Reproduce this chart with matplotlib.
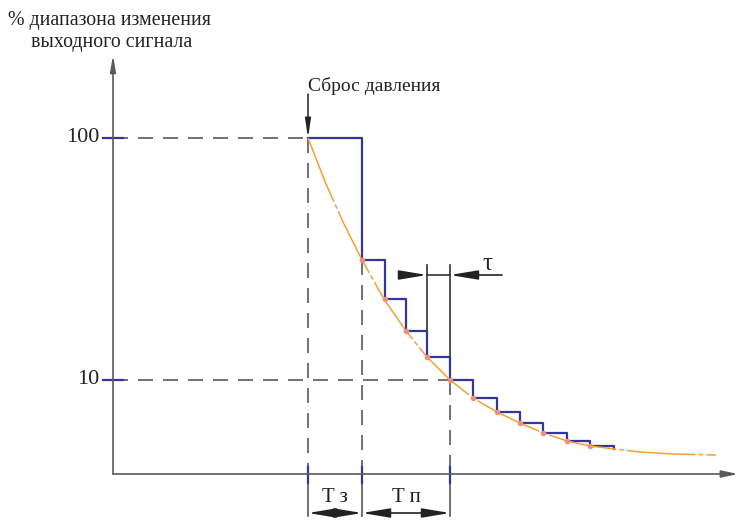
import matplotlib
matplotlib.use("Agg")
import matplotlib.pyplot as plt

# ---- data (diagram units: time since pressure release, signal level above baseline) ----
step_times = [0, 54, 77, 98, 119, 142, 165, 189, 212, 235, 259, 282, 306]
step_levels = [336, 214, 175, 143, 117, 94, 76, 62, 51, 41, 33, 28, 25]
curve_t = [0, 18, 36, 54, 76, 98, 119, 142, 165, 189, 212, 235, 259, 282, 307, 332, 365, 408]
curve_y = [336, 290, 250, 214, 175, 143, 117, 94, 76, 62, 51, 41, 33, 28, 25, 22, 20, 19]
level_values = [336, 94]
level_labels = ["100", "10"]
t_dead = 0          # start of dead time (pressure release)
t_dead_end = 54     # end of dead time T з
t_trans_end = 142   # end of transition time T п
tau_start, tau_end = 119, 142

AXIS_X = -195       # position of the vertical axis
X_END = 430
Y_TOP = 419

font = "Liberation Serif"
grey = "#5a5a5a"
blue = "#34359a"
orange = "#f5a033"
dot = "#f0907a"
ink = "#222222"

fig = plt.figure(figsize=(7.4, 5.2), dpi=100)
ax = fig.add_axes([0, 0, 1, 1])
ax.set_xlim(-308, 432)
ax.set_ylim(-46, 474)
ax.axis("off")

# axes with arrows
ax.annotate("", xy=(AXIS_X, Y_TOP), xytext=(AXIS_X, 0),
            arrowprops=dict(arrowstyle="-|>,head_length=0.7,head_width=0.12", color=grey,
                            lw=1.2, shrinkA=0, shrinkB=0, mutation_scale=14))
ax.annotate("", xy=(X_END, 0), xytext=(AXIS_X, 0),
            arrowprops=dict(arrowstyle="-|>,head_length=0.7,head_width=0.15", color=grey,
                            lw=1.2, shrinkA=0, shrinkB=0, mutation_scale=14))

# level dashed lines + ticks + labels
level_ends = [t_dead, t_trans_end]
for v, lab, xe in zip(level_values, level_labels, level_ends):
    ax.plot([AXIS_X, xe], [v, v], color=grey, lw=1.2, dashes=(9, 6))
    ax.plot([AXIS_X - 10, AXIS_X + 10], [v, v], color=blue, lw=1.6)
    ax.text(AXIS_X - 14, v, lab, fontsize=16, family=font, ha="right", va="center",
            color=ink)

# vertical dashed lines down to the axis, then extension lines
for t, top in [(t_dead, level_values[0]), (t_dead_end, step_levels[1]),
               (t_trans_end, level_values[1])]:
    ax.plot([t, t], [top, 0], color=grey, lw=1.2, dashes=(9, 6))
    ax.plot([t, t], [0, -42], color=grey, lw=1.2)
    ax.plot([t, t], [-9, 7], color=blue, lw=1.6)

# staircase output
ax.step(step_times, step_levels, where="post", color=blue, lw=1.6, zorder=3)

# exponential curve
ax.plot(curve_t, curve_y, color=orange, lw=1.1, dashes=(45, 2, 3, 2), zorder=4)
ax.scatter(step_times[1:12], step_levels[1:12], s=16, color=dot, zorder=5, linewidths=0)

# pressure-release arrow
ax.annotate("", xy=(t_dead, level_values[0]), xytext=(t_dead, 380),
            arrowprops=dict(arrowstyle="-|>,head_length=0.8,head_width=0.12", color=ink,
                            lw=1.1, shrinkA=0, shrinkB=0, mutation_scale=14))
ax.text(t_dead, 388, "Сброс давления", fontsize=14, family=font, ha="left", va="center",
        color=ink)

# tau dimension
head = "-|>,head_length=1.2,head_width=0.2"
ax.plot([tau_start, tau_start], [209, step_levels[4]], color="#333333", lw=1.2)
ax.plot([tau_end, tau_end], [209, step_levels[5]], color="#333333", lw=1.2)
ax.plot([tau_start, tau_end], [199, 199], color="#333333", lw=1.2)
ax.annotate("", xy=(tau_start, 199), xytext=(tau_start - 24, 199),
            arrowprops=dict(arrowstyle=head, color=ink,
                            lw=1.2, shrinkA=0, shrinkB=0, mutation_scale=14))
ax.annotate("", xy=(tau_end, 199), xytext=(tau_end + 52, 199),
            arrowprops=dict(arrowstyle=head, color=ink,
                            lw=1.2, shrinkA=0, shrinkB=0, mutation_scale=14))
ax.text(tau_end + 37, 210, "τ", fontsize=18, family=font, ha="center", va="center",
        color=ink)

# T з and T п dimensions
for a, b, lab in [(t_dead, t_dead_end, "T з"), (t_dead_end, t_trans_end, "T п")]:
    ax.annotate("", xy=(a, -39), xytext=(b, -39),
                arrowprops=dict(arrowstyle="<|-|>,head_length=1.2,head_width=0.2",
                                color=ink, lw=1.2, shrinkA=0, shrinkB=0,
                                mutation_scale=14))
    ax.text((a + b) / 2, -24, lab, fontsize=15, family=font, ha="center", va="center",
            color=ink)

# y axis title
ax.text(AXIS_X - 3, 454, "% диапазона изменения", fontsize=14.3, family=font, ha="center",
        va="center", color=ink)
ax.text(AXIS_X - 1, 431, "выходного сигнала", fontsize=14.3, family=font, ha="center",
        va="center", color=ink)

fig.savefig("out.png", dpi=100)
